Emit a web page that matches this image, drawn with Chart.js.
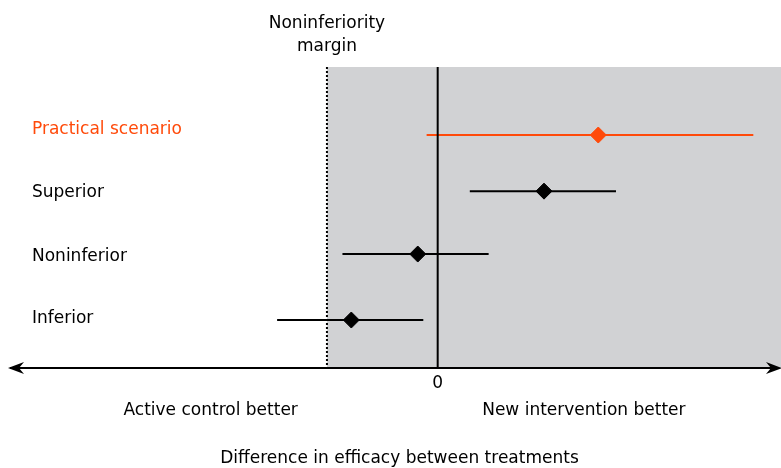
<!DOCTYPE html>
<html>
<head>
<meta charset="utf-8">
<script src="https://cdn.jsdelivr.net/npm/chart.js@4/dist/chart.umd.min.js"></script>
<style>
html, body { margin: 0; padding: 0; background: #fff; overflow: hidden; }
canvas { display: block; }
</style>
</head>
<body>
<canvas id="chart" width="781" height="468"></canvas>
<script>
// rows, top to bottom
const scenarios = ['Practical scenario', 'Superior', 'Noninferior', 'Inferior'];
const row_pos = [4, 3.09, 2.07, 1];
// difference in efficacy, in units of the noninferiority margin
const estimates = [1.45, 0.96, -0.18, -0.78];
const ci_low = [-0.10, 0.29, -0.86, -1.45];
const ci_high = [2.85, 1.61, 0.46, -0.13];
const row_colors = ['#ff4a0a', '#000000', '#000000', '#000000'];
const nim = -1;
const x_ticks = [0];
const side_labels = ['Active control better', 'New intervention better'];
const side_pos = [-2.05, 1.32];

const font_family = '"DejaVu Sans", sans-serif';
// label nudge relative to its row line (px)
const label_nudge = [-5, 1, 3, -1];

let datasets = [];
for (let i = 0; i < scenarios.length; i++) {
    datasets.push({
        label: scenarios[i] + ' CI',
        data: [{x: ci_low[i], y: row_pos[i]}, {x: ci_high[i], y: row_pos[i]}],
        showLine: true,
        borderColor: row_colors[i],
        borderWidth: 2,
        pointRadius: 0
    });
}
datasets.push({
    label: 'Estimate',
    data: estimates.map((v, i) => ({x: v, y: row_pos[i]})),
    pointStyle: 'rectRot',
    pointRadius: 8,
    pointBackgroundColor: row_colors,
    pointBorderColor: row_colors,
    showLine: false
});

const decor = {
    id: 'decor',
    beforeDatasetsDraw(chart) {
        const {ctx, chartArea: a, scales: {x}} = chart;
        const xm = x.getPixelForValue(nim);
        ctx.save();
        ctx.fillStyle = '#d1d2d4';
        ctx.fillRect(xm, a.top, a.right - xm, a.bottom - a.top);
        ctx.strokeStyle = '#000';
        ctx.lineWidth = 2;
        ctx.setLineDash([2, 2]);
        ctx.beginPath();
        ctx.moveTo(xm, a.top);
        ctx.lineTo(xm, a.bottom);
        ctx.stroke();
        ctx.restore();
    },
    afterDatasetsDraw(chart) {
        const {ctx, chartArea: a, scales: {x, y}} = chart;
        ctx.save();
        // zero line
        const x0 = x.getPixelForValue(0);
        ctx.strokeStyle = '#000';
        ctx.lineWidth = 2;
        ctx.beginPath();
        ctx.moveTo(x0, a.top);
        ctx.lineTo(x0, a.bottom);
        ctx.stroke();

        // axis with arrows on both ends
        const ay = a.bottom;
        ctx.beginPath();
        ctx.moveTo(a.left + 2, ay);
        ctx.lineTo(a.right - 2, ay);
        ctx.stroke();
        ctx.fillStyle = '#000';
        ctx.beginPath();
        ctx.moveTo(a.left, ay);
        ctx.lineTo(a.left + 16, ay - 6);
        ctx.lineTo(a.left + 11, ay);
        ctx.lineTo(a.left + 16, ay + 6);
        ctx.closePath();
        ctx.fill();
        ctx.beginPath();
        ctx.moveTo(a.right + 1, ay);
        ctx.lineTo(a.right - 15, ay - 6);
        ctx.lineTo(a.right - 10, ay);
        ctx.lineTo(a.right - 15, ay + 6);
        ctx.closePath();
        ctx.fill();

        ctx.font = '17px ' + font_family;
        ctx.textBaseline = 'middle';

        // row labels
        ctx.textAlign = 'left';
        for (let i = 0; i < scenarios.length; i++) {
            ctx.fillStyle = i === 0 ? row_colors[i] : '#000';
            ctx.fillText(scenarios[i], 32, y.getPixelForValue(row_pos[i]) + label_nudge[i]);
        }

        ctx.fillStyle = '#000';
        ctx.textAlign = 'center';
        x_ticks.forEach(t => ctx.fillText(String(t), x.getPixelForValue(t), ay + 16));
        side_labels.forEach((s, i) => ctx.fillText(s, x.getPixelForValue(side_pos[i]), ay + 43));
        ctx.fillText('Difference in efficacy between treatments', chart.width / 2 + 9, chart.height - 9);

        const xm = x.getPixelForValue(nim);
        ctx.fillText('Noninferiority', xm, 24);
        ctx.fillText('margin', xm, 47);
        ctx.restore();
    }
};

new Chart(document.getElementById('chart'), {
    type: 'scatter',
    data: {datasets: datasets},
    options: {
        responsive: false,
        animation: false,
        layout: {autoPadding: false, padding: {top: 67, bottom: 100, left: 8, right: 0}},
        plugins: {legend: {display: false}, tooltip: {enabled: false}},
        scales: {
            x: {type: 'linear', min: -3.88, max: 3.10, display: false},
            y: {type: 'linear', min: 0.222, max: 5.103, display: false}
        }
    },
    plugins: [decor]
});
</script>
</body>
</html>
